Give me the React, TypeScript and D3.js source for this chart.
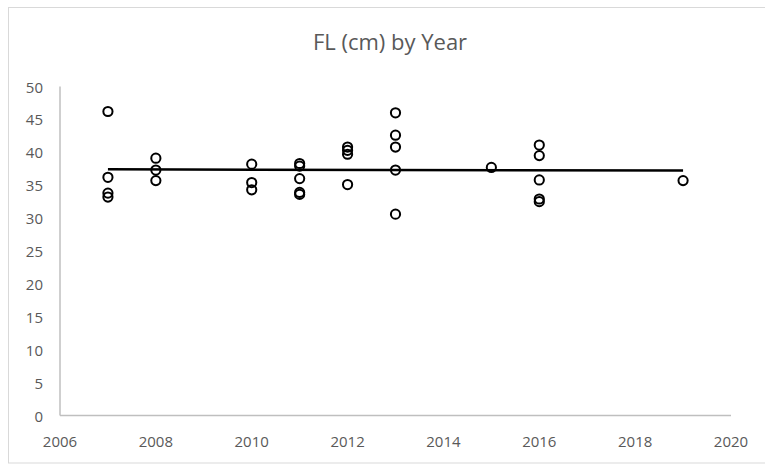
import React from "react";
import * as d3 from "d3";

// Fork length measurements (cm) grouped by sampling year
const years: number[] = [
  2007, 2007, 2007, 2007,
  2008, 2008, 2008,
  2010, 2010, 2010,
  2011, 2011, 2011, 2011, 2011,
  2012, 2012, 2012, 2012,
  2013, 2013, 2013, 2013, 2013,
  2015,
  2016, 2016, 2016, 2016, 2016,
  2019,
];
const lengths: number[] = [
  46.2, 36.2, 33.8, 33.2,
  39.1, 37.3, 35.7,
  38.2, 35.4, 34.3,
  38.3, 37.9, 36.0, 33.9, 33.6,
  40.8, 40.3, 39.7, 35.1,
  46.0, 42.6, 40.8, 37.3, 30.6,
  37.7,
  41.1, 39.5, 35.8, 32.9, 32.5,
  35.7,
];

const xTicks: number[] = [2006, 2008, 2010, 2012, 2014, 2016, 2018, 2020];
const yTicks: number[] = [0, 5, 10, 15, 20, 25, 30, 35, 40, 45, 50];
const title = "FL (cm) by Year";

const W = 765;
const H = 464;
const plot = { left: 60, right: 731, top: 86.5, bottom: 415.5 };
const FONT = "'Open Sans', 'Noto Sans', sans-serif";
const TEXT = "#595959";

export default function App() {
  const x = d3.scaleLinear().domain([2006, 2020]).range([plot.left, plot.right]);
  const y = d3.scaleLinear().domain([0, 50]).range([plot.bottom, plot.top]);

  // Least-squares linear trendline over all points
  const mx = d3.mean(years)!;
  const my = d3.mean(lengths)!;
  let sxy = 0;
  let sxx = 0;
  years.forEach((yr, i) => {
    sxy += (yr - mx) * (lengths[i] - my);
    sxx += (yr - mx) * (yr - mx);
  });
  const slope = sxy / sxx;
  const intercept = my - slope * mx;
  const [x0, x1] = d3.extent(years) as [number, number];
  const trend = d3.line<number>()
    .x((d) => x(d))
    .y((d) => y(intercept + slope * d));

  return (
    <svg
      width={W}
      height={H}
      style={{ position: "absolute", left: 0, top: 0, background: "#fff" }}
    >
      <rect x={8.5} y={7.5} width={770} height={455.5} fill="#fff" stroke="#d9d9d9" strokeWidth={1} />
      <text x={390} y={41} textAnchor="middle" dominantBaseline="central"
        fontFamily={FONT} fontSize={22} fill={TEXT}>{title}</text>

      {/* axes */}
      <line x1={plot.left} x2={plot.left} y1={plot.top} y2={plot.bottom} stroke="#bfbfbf" strokeWidth={1.5} />
      <line x1={plot.left} x2={plot.right} y1={plot.bottom} y2={plot.bottom} stroke="#bfbfbf" strokeWidth={1.5} />

      {yTicks.map((t) => (
        <text key={"y" + t} x={43} y={y(t)} textAnchor="end" dominantBaseline="central"
          fontFamily={FONT} fontSize={15} fill={TEXT}>{t}</text>
      ))}
      {xTicks.map((t) => (
        <text key={"x" + t} x={x(t)} y={441} textAnchor="middle" dominantBaseline="central"
          fontFamily={FONT} fontSize={15} fill={TEXT}>{t}</text>
      ))}

      <path d={trend([x0, x1]) ?? ""} fill="none" stroke="#000" strokeWidth={2.5} />

      {years.map((yr, i) => (
        <circle key={i} cx={x(yr)} cy={y(lengths[i])} r={4.6}
          fill="none" stroke="#000" strokeWidth={2} />
      ))}
    </svg>
  );
}
